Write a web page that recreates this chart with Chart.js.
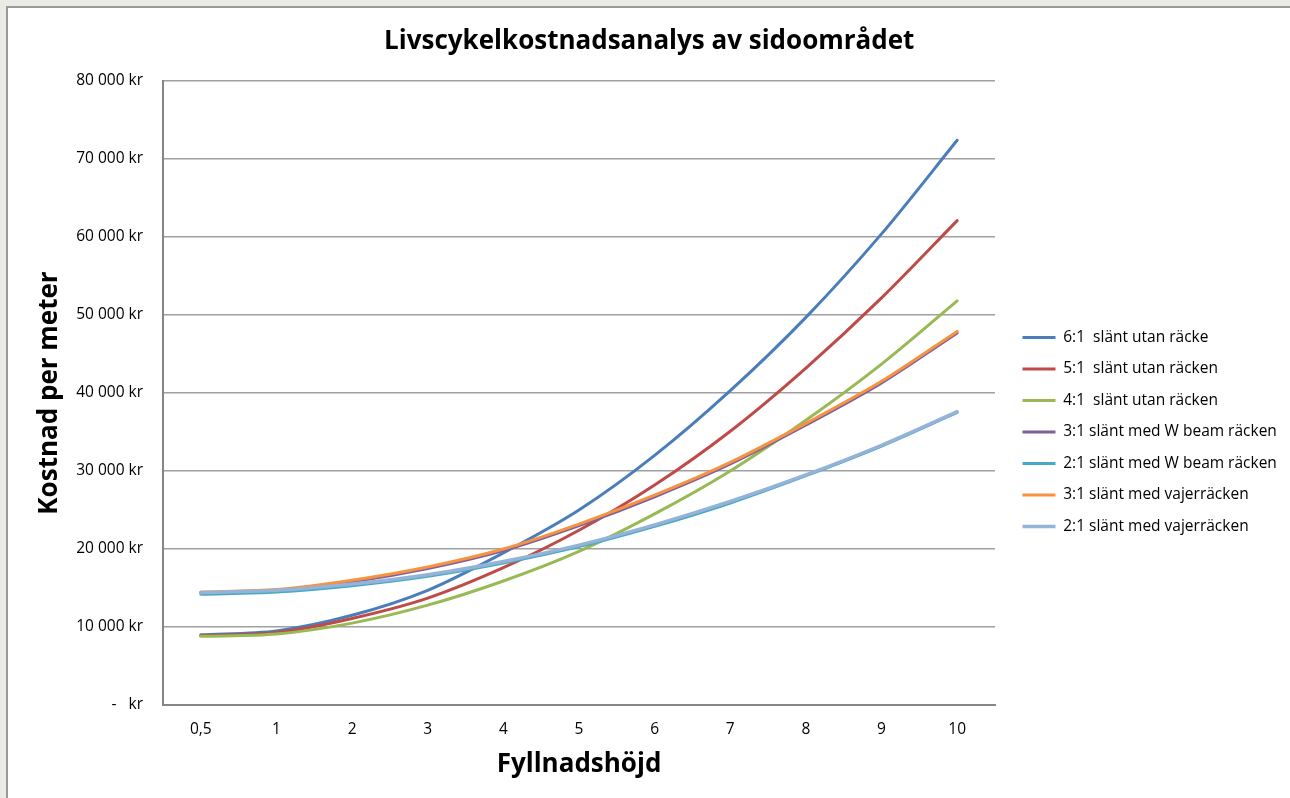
<!DOCTYPE html>
<html>
<head>
<meta charset="utf-8">
<title>Livscykelkostnadsanalys av sidoområdet</title>
<script src="https://cdn.jsdelivr.net/npm/chart.js"></script>
<style>
  body { margin: 0; background: #ebebe6; overflow: hidden; }
  .frame {
    position: absolute; left: 6px; top: 6px; width: 1300px; height: 820px;
    border-left: 2px solid #9a9a9a; border-top: 2px solid #9a9a9a;
    background: #fff; overflow: hidden;
  }
  canvas { display: block; }
</style>
</head>
<body>
<div class="frame"><canvas id="lccChart" width="1282" height="848"></canvas></div>
<script>
/* Data */
const heights = ["0,5", "1", "2", "3", "4", "5", "6", "7", "8", "9", "10"];

const slope61 = [9000, 9500, 11500, 14700, 19500, 25000, 32000, 40300, 49700, 60400, 72400];
const slope51 = [8900, 9300, 11100, 13700, 17600, 22400, 28200, 35100, 43200, 52200, 62100];
const slope41 = [8800, 9100, 10500, 12800, 15900, 19700, 24500, 30000, 36500, 43700, 51800];
const wbeam31 = [14400, 14700, 15800, 17500, 19800, 23000, 26700, 30900, 35900, 41300, 47700];
const wbeam21 = [14200, 14500, 15300, 16500, 18200, 20300, 22900, 25900, 29400, 33200, 37500];
const wire31 = [14500, 14800, 16000, 17700, 20000, 23200, 26900, 31100, 36100, 41500, 47900];
const wire21 = [14400, 14700, 15500, 16700, 18400, 20500, 23100, 26100, 29500, 33300, 37600];

const seriesNames = [
  "6:1  slänt utan räcke",
  "5:1  slänt utan räcken",
  "4:1  slänt utan räcken",
  "3:1 slänt med W beam räcken",
  "2:1 slänt med W beam räcken",
  "3:1 slänt med vajerräcken",
  "2:1 slänt med vajerräcken",
];
const seriesValues = [slope61, slope51, slope41, wbeam31, wbeam21, wire31, wire21];
const seriesColors = ["#4a7ebb", "#be4b48", "#98b954", "#7d60a0", "#46aac5", "#f69240", "#95b3d7"];

const yTicks = [0, 10000, 20000, 30000, 40000, 50000, 60000, 70000, 80000];

/* Chart */
Chart.defaults.font.family = "'Open Sans', sans-serif";
Chart.defaults.color = "#000";

const ctx = document.getElementById("lccChart").getContext("2d");

const datasets = seriesNames.map((name, i) => ({
  label: name,
  data: seriesValues[i],
  borderColor: seriesColors[i],
  backgroundColor: seriesColors[i],
  borderWidth: i === 6 ? 3.5 : 3,
  borderCapStyle: "round",
  pointRadius: 0,
  pointHoverRadius: 0,
  pointStyle: "line",
  tension: 0.3,
  order: seriesNames.length - 1 - i, // later series drawn on top, like Excel
}));

const config = {
  type: "line",
  data: { labels: heights, datasets: datasets },
  options: {
    responsive: false,
    animation: false,
    layout: { padding: { top: 0, bottom: 0, left: 12, right: 11.5 } },
    plugins: {
      title: {
        display: true,
        text: "Livscykelkostnadsanalys av sidoområdet",
        font: { size: 26, weight: "bold" },
        padding: { top: 18.2, bottom: 23.6 },
      },
      legend: {
        position: "right",
        maxWidth: 272,
        labels: {
          usePointStyle: true,
          pointStyleWidth: 33,
          padding: 16,
          font: { size: 15.5 },
          sort: (a, b) => a.datasetIndex - b.datasetIndex,
        },
      },
      tooltip: { enabled: false },
    },
    scales: {
      x: {
        offset: true,
        grid: { display: false, drawTicks: false },
        border: { color: "#868686", width: 2 },
        ticks: { padding: 15, font: { size: 15.5 } },
        title: {
          display: true,
          text: "Fyllnadshöjd",
          font: { size: 26, weight: "bold" },
          padding: { top: 0, bottom: 75.4 },
        },
        afterFit: function (scale) {
          scale.height = 151;
        },
      },
      y: {
        min: 0,
        max: 80000,
        afterBuildTicks: function (scale) {
          scale.ticks = yTicks.map((v) => ({ value: v }));
        },
        grid: { color: "#a0a0a0", lineWidth: 1.5, drawTicks: false },
        border: { color: "#868686", width: 2 },
        ticks: {
          padding: 20,
          font: { size: 15.5 },
          callback: function (value) {
            if (value === 0) return "-   kr";
            return value / 1000 + " 000 kr";
          },
        },
        title: {
          display: true,
          text: "Kostnad per meter",
          font: { size: 26, weight: "bold" },
          padding: { top: 14.4, bottom: 0 },
        },
        afterFit: function (scale) {
          scale.width = 143;
        },
      },
      gap: {
        axis: "y",
        position: "right",
        grid: { display: false, drawTicks: false },
        border: { display: false },
        ticks: { display: false },
        afterFit: function (scale) {
          scale.width = 11.5;
        },
      },
    },
  },
};

const lccChart = new Chart(ctx, config);
</script>
</body>
</html>
